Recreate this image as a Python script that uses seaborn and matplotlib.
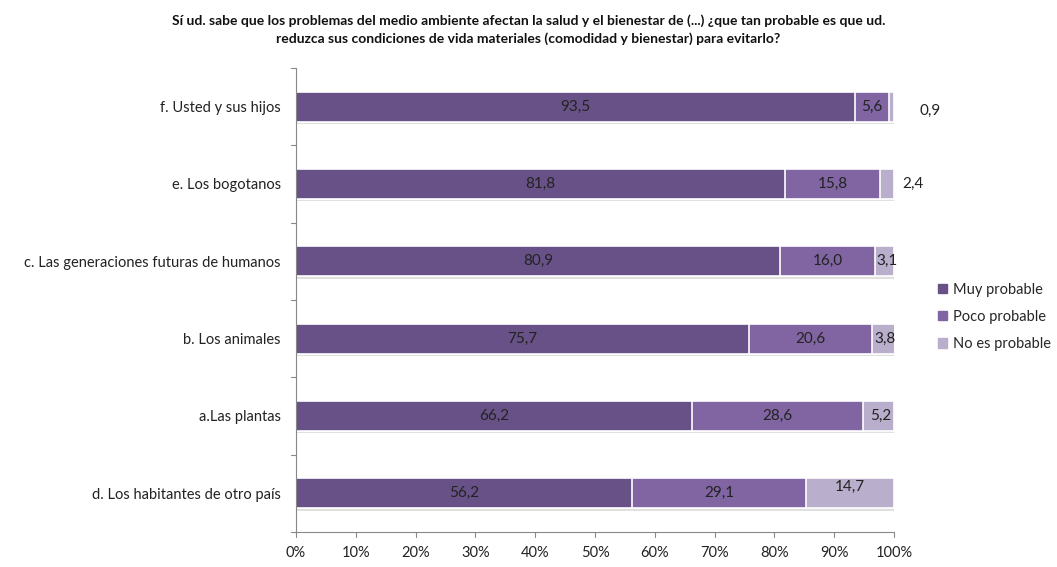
import matplotlib.pyplot as plt
import matplotlib.patches as mpatches
import numpy as np
import pandas as pd
import seaborn as sns

# data (top to bottom as shown)
categories = [
    "f. Usted y sus hijos",
    "e. Los bogotanos",
    "c. Las generaciones futuras de humanos",
    "b. Los animales",
    "a.Las plantas",
    "d. Los habitantes de otro país",
]
muy_probable = [93.5, 81.8, 80.9, 75.7, 66.2, 56.2]
poco_probable = [5.6, 15.8, 16.0, 20.6, 28.6, 29.1]
no_es_probable = [0.9, 2.4, 3.1, 3.8, 5.2, 14.7]
series_names = ["Muy probable", "Poco probable", "No es probable"]

title = ("Sí ud. sabe que los problemas del medio ambiente afectan la salud y el bienestar de (...) "
         "¿que tan probable es que ud.\nreduzca sus condiciones de vida materiales "
         "(comodidad y bienestar) para evitarlo?")

colors = ["#685186", "#8065A2", "#B9AECB"]

sns.set_theme(style="white")
plt.rcParams["font.family"] = ["Lato", "DejaVu Sans"]

df = pd.DataFrame({
    "cat": categories,
    "Muy probable": muy_probable,
    "Poco probable": poco_probable,
    "No es probable": no_es_probable,
})
df["c1"] = df["Muy probable"]
df["c2"] = df["c1"] + df["Poco probable"]
df["c3"] = df["c2"] + df["No es probable"]

fig = plt.figure(figsize=(10.57, 5.67), dpi=100)
ax = fig.add_axes([296 / 1057, 1 - 532 / 567, (894 - 296) / 1057, (532 - 68) / 567])

# soft shadow under each bar
ypos = np.arange(len(categories))
ax.barh(ypos + 0.03, df["c3"] + 0.2, height=0.39, color="#d4d4d4", alpha=0.7,
        linewidth=0, zorder=0.5)

# draw cumulative bars back to front
for col, color in zip(["c3", "c2", "c1"], colors[::-1]):
    sns.barplot(data=df, x=col, y="cat", orient="h", color=color, width=0.39,
                edgecolor="white", linewidth=1.2, saturation=1, ax=ax)

ax.set_xlim(0, 100)
ax.set_ylim(len(categories) - 0.5, -0.5)
ax.set_xlabel("")
ax.set_ylabel("")
ax.set_xticks(np.arange(0, 101, 10))
ax.set_xticklabels([f"{v}%" for v in range(0, 101, 10)], fontsize=10.5, color="#222222")
ax.tick_params(axis="y", labelsize=10.5, colors="#222222", length=0, pad=11)
ax.tick_params(axis="x", length=0, pad=10)
ax.set_yticks(range(len(categories)))
ax.set_yticklabels(categories)

# tick marks at category boundaries on y axis, ticks on x axis
for b in np.arange(-0.5, len(categories), 1):
    ax.plot([-0.9, 0], [b, b], color="#888888", lw=0.8, clip_on=False)
for v in range(0, 101, 10):
    ax.plot([v, v], [len(categories) - 0.5, len(categories) - 0.5 + 0.07],
            color="#888888", lw=0.8, clip_on=False)

for side in ["top", "right"]:
    ax.spines[side].set_visible(False)
for side in ["left", "bottom"]:
    ax.spines[side].set_color("#888888")
    ax.spines[side].set_linewidth(0.8)

def fmt(v):
    return f"{v:.1f}".replace(".", ",")

label_kw = dict(va="center", ha="center", fontsize=11, color="#222222")
for i, row in df.iterrows():
    ax.text(row["c1"] / 2, i, fmt(row["Muy probable"]), **label_kw)
    ax.text((row["c1"] + row["c2"]) / 2, i, fmt(row["Poco probable"]), **label_kw)
    v3 = row["No es probable"]
    if v3 < 1:
        x3, y3 = 106, i + 0.05
    elif v3 < 3:
        x3, y3 = 103.2, i
    elif v3 > 10:
        x3, y3 = (row["c2"] + row["c3"]) / 2, i - 0.08
    else:
        x3, y3 = (row["c2"] + row["c3"]) / 2 + 0.3, i
    ax.text(x3, y3, fmt(v3), **label_kw)

handles = [mpatches.Patch(color=c, label=n) for c, n in zip(colors, series_names)]
fig.legend(handles=handles, loc="center left", bbox_to_anchor=(925 / 1057, 1 - 317 / 567),
           frameon=False, fontsize=10.5, handlelength=0.6, handleheight=0.6,
           handletextpad=0.4, labelspacing=0.9)

fig.text(0.5, 1 - 30 / 567, title, ha="center", va="center", fontsize=10,
         fontweight="bold", linespacing=1.5, color="#111111")

fig.savefig("out.png", dpi=100)
